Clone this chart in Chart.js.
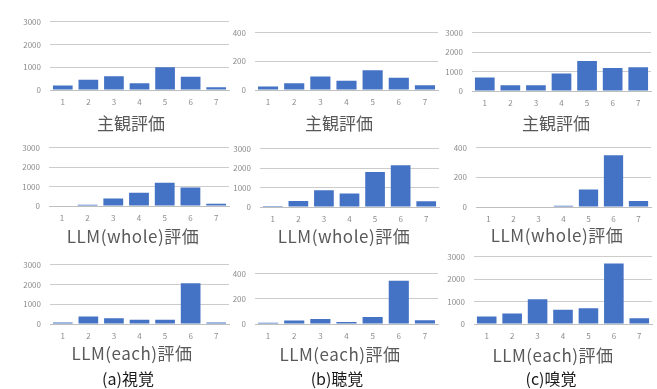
<!DOCTYPE html>
<html>
<head>
<meta charset="utf-8">
<script src="https://cdn.jsdelivr.net/npm/chart.js@4"></script>
<style>
body{margin:0;background:#fff;width:657px;height:389px;position:relative;overflow:hidden;font-family:"Noto Sans CJK JP",sans-serif}
canvas{position:absolute}
.cap{position:absolute;transform:translate(-50%,-50%);white-space:nowrap;color:#595959;font-size:17px;line-height:1}
.llm{letter-spacing:0.5px}
.sub{color:#1a1a1a;font-size:16px}
</style>
</head>
<body>
<script>
const ratings = ['1', '2', '3', '4', '5', '6', '7']

// (a) visual
const visualSubj = [200, 450, 600, 300, 1000, 580, 120]
const visualWhole = [0, 60, 390, 680, 1200, 960, 120]
const visualEach = [70, 380, 290, 220, 220, 2070, 80]
// (b) audio
const audioSubj = [25, 48, 94, 65, 138, 86, 33]
const audioWhole = [50, 310, 860, 700, 1800, 2150, 300]
const audioEach = [10, 28, 40, 15, 55, 345, 30]
// (c) smell
const smellSubj = [700, 300, 300, 900, 1550, 1180, 1220]
const smellWhole = [0, 0, 0, 8, 118, 350, 41]
const smellEach = [340, 470, 1100, 640, 700, 2700, 260]

const rowTitles = ['主観評価', 'LLM(whole)評価', 'LLM(each)評価']
const panelTitles = ['(a)視覚', '(b)聴覚', '(c)嗅覚']
const axisMax = [3000, 400, 3000, 3000, 3000, 400, 3000, 400, 3000]

// plot box [left, top, right, bottom] and caption centre, per panel
const panels = [
    {data: visualSubj, box: [50, 16, 229, 90], cap: [131, 122]},
    {data: audioSubj, box: [255, 27, 438, 90], cap: [339, 122]},
    {data: smellSubj, box: [472, 27, 651, 91], cap: [556, 122]},
    {data: visualWhole, box: [49, 142, 229, 206], cap: [133, 235]},
    {data: audioWhole, box: [260, 143, 439, 207], cap: [344, 235]},
    {data: smellWhole, box: [476, 142, 651, 207], cap: [557, 234]},
    {data: visualEach, box: [50, 259, 229, 324], cap: [132, 352]},
    {data: audioEach, box: [255, 268, 438, 324], cap: [340, 353]},
    {data: smellEach, box: [474, 251, 652, 324], cap: [553, 354]}
]
const bottomCaps = [[128, 378], [337, 378], [551, 378]]

function addText(txt, pos, cls){
    let d = document.createElement('div')
    d.className = cls
    d.innerText = txt
    d.style.left = pos[0] + 'px'
    d.style.top = pos[1] + 'px'
    document.body.append(d)
}

function makeChart(p, i){
    const axisW = 44, padTop = 8, axisH = 22
    const left = p.box[0] - axisW
    const top = p.box[1] - padTop
    const c = document.createElement('canvas')
    c.width = p.box[2] - left + 2
    c.height = p.box[3] - top + axisH
    c.style.left = left + 'px'
    c.style.top = top + 'px'
    document.body.append(c)

    const max = axisMax[i]
    new Chart(c, {
        type: 'bar',
        data: {
            labels: ratings,
            datasets: [{
                data: p.data,
                backgroundColor: '#4472C4',
                barPercentage: 0.77,
                categoryPercentage: 1
            }]
        },
        options: {
            responsive: false,
            animation: false,
            layout: {padding: {top: padTop, right: 2, left: 0, bottom: 0}},
            plugins: {legend: {display: false}, tooltip: {enabled: false}},
            scales: {
                x: {
                    afterFit: (s) => { s.height = axisH },
                    grid: {display: false, drawTicks: false},
                    border: {display: true, color: '#bfbfbf', width: 1},
                    ticks: {padding: 7, color: '#8c8c8c', font: {size: 8, family: 'Noto Sans CJK JP'}}
                },
                y: {
                    min: 0,
                    max: max,
                    afterFit: (s) => { s.width = axisW },
                    grid: {color: '#cccccc', drawTicks: false},
                    border: {display: false},
                    ticks: {
                        stepSize: max == 400 ? 200 : 1000,
                        padding: 9,
                        color: '#8c8c8c',
                        font: {size: 8, family: 'Noto Sans CJK JP'},
                        callback: (v) => v
                    }
                }
            }
        }
    })
    let row = Math.floor(i / 3)
    addText(rowTitles[row], p.cap, row > 0 ? 'cap llm' : 'cap')
}

panels.forEach(makeChart)
bottomCaps.forEach((pos, k) => addText(panelTitles[k], pos, 'cap sub'))
</script>
</body>
</html>
